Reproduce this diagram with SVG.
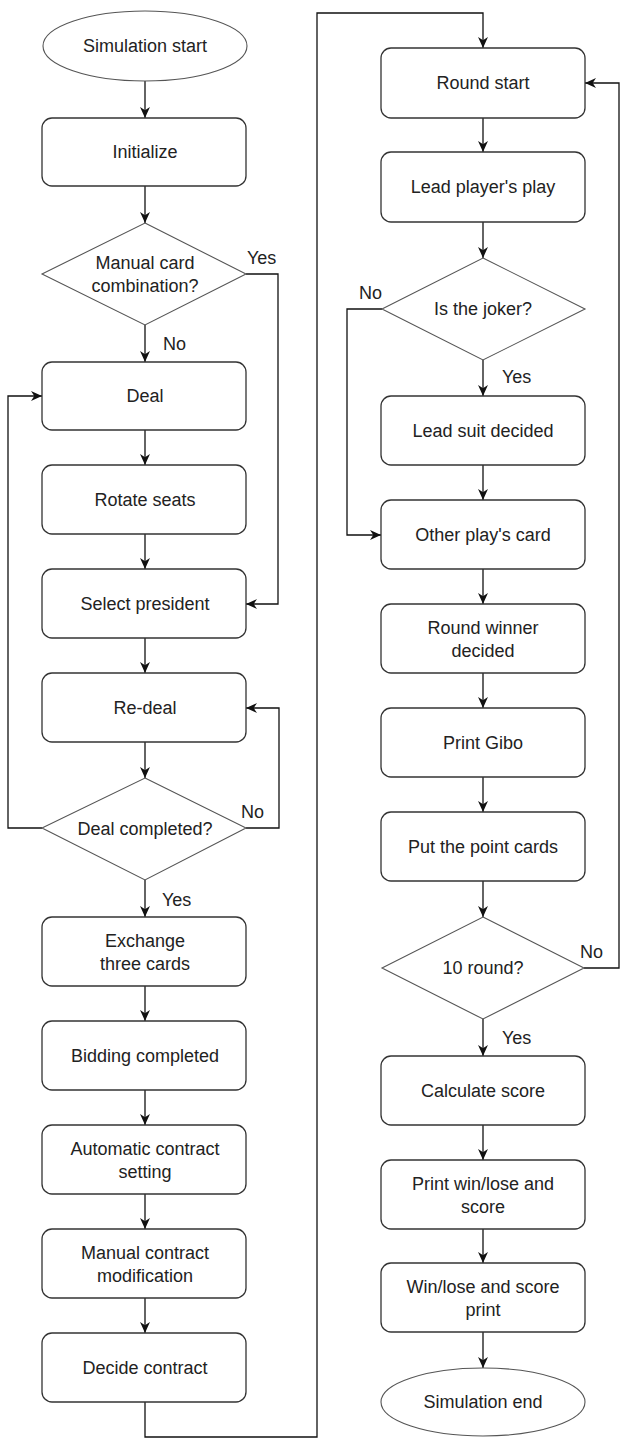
<svg xmlns="http://www.w3.org/2000/svg" width="639" height="1450" viewBox="0 0 639 1450">
<style>
.n{fill:#fff;stroke:#333;stroke-width:1.3}
.d{fill:#fff;stroke:#555;stroke-width:1.1}
.t{font-family:"Liberation Sans",Arial,sans-serif;font-size:18px;fill:#222;text-anchor:middle}
.l{font-family:"Liberation Sans",Arial,sans-serif;font-size:18px;fill:#222}
.c{fill:none;stroke:#111;stroke-width:1.3;marker-end:url(#a)}
.c0{fill:none;stroke:#111;stroke-width:1.3}
</style>
<defs>
<marker id="a" viewBox="0 0 10 10" refX="10" refY="5" markerWidth="11" markerHeight="11" markerUnits="userSpaceOnUse" orient="auto">
<path d="M0,0.5 L10,5 L0,9.5 L3,5 z" fill="#111"/>
</marker>
</defs>
<rect width="639" height="1450" fill="#fff"/>

<g id="connectors">
<path class="c" d="M145,81 V118"/>
<path class="c" d="M145,186 V223"/>
<path class="c" d="M145,325 V362"/>
<path class="c" d="M246,274 H278 V604 H246"/>
<path class="c" d="M145,430 V465"/>
<path class="c" d="M145,534 V569"/>
<path class="c" d="M145,638 V673"/>
<path class="c" d="M145,742 V778"/>
<path class="c" d="M246,828 H279 V708 H246"/>
<path class="c" d="M42,828 H8 V396 H42"/>
<path class="c" d="M145,880 V917"/>
<path class="c" d="M145,986 V1021"/>
<path class="c" d="M145,1090 V1125"/>
<path class="c" d="M145,1194 V1229"/>
<path class="c" d="M145,1298 V1333"/>
<path class="c" d="M145,1402 V1437 H317 V13 H483 V48"/>
<path class="c" d="M483,118 V152"/>
<path class="c" d="M483,222 V258"/>
<path class="c" d="M483,360 V396"/>
<path class="c" d="M382,309 H347 V535 H381"/>
<path class="c" d="M483,465 V500"/>
<path class="c" d="M483,569 V604"/>
<path class="c" d="M483,673 V708"/>
<path class="c" d="M483,777 V812"/>
<path class="c" d="M483,881 V917"/>
<path class="c" d="M584,968 H619 V83 H585"/>
<path class="c" d="M483,1019 V1056"/>
<path class="c" d="M483,1125 V1160"/>
<path class="c" d="M483,1229 V1263"/>
<path class="c" d="M483,1332 V1368"/>
<text class="l" x="247" y="264">Yes</text>
<text class="l" x="163" y="350">No</text>
<text class="l" x="241" y="818">No</text>
<text class="l" x="162" y="906">Yes</text>
<text class="l" x="359" y="299">No</text>
<text class="l" x="502" y="383">Yes</text>
<text class="l" x="580" y="958">No</text>
<text class="l" x="502" y="1044">Yes</text>
</g>

<g id="sim-start"><ellipse class="d" cx="145" cy="46" rx="102" ry="35"/><text class="t" x="145" y="52">Simulation start</text></g>
<g id="initialize"><rect class="n" x="42" y="118" width="204" height="68" rx="10"/><text class="t" x="145" y="158">Initialize</text></g>
<g id="manual-card"><polygon class="d" points="145,223 246,274 145,325 42,274"/><text class="t" x="145" y="269">Manual card</text><text class="t" x="145" y="292">combination?</text></g>
<g id="deal"><rect class="n" x="42" y="362" width="204" height="68" rx="10"/><text class="t" x="145" y="402">Deal</text></g>
<g id="rotate"><rect class="n" x="42" y="465" width="204" height="69" rx="10"/><text class="t" x="145" y="506">Rotate seats</text></g>
<g id="select"><rect class="n" x="42" y="569" width="204" height="69" rx="10"/><text class="t" x="145" y="610">Select president</text></g>
<g id="redeal"><rect class="n" x="42" y="673" width="204" height="69" rx="10"/><text class="t" x="145" y="714">Re-deal</text></g>
<g id="deal-completed"><polygon class="d" points="145,778 246,828 145,880 42,828"/><text class="t" x="145" y="835">Deal completed?</text></g>
<g id="exchange"><rect class="n" x="42" y="917" width="204" height="69" rx="10"/><text class="t" x="145" y="947">Exchange</text><text class="t" x="145" y="970">three cards</text></g>
<g id="bidding"><rect class="n" x="42" y="1021" width="204" height="69" rx="10"/><text class="t" x="145" y="1062">Bidding completed</text></g>
<g id="auto-contract"><rect class="n" x="42" y="1125" width="204" height="69" rx="10"/><text class="t" x="145" y="1155">Automatic contract</text><text class="t" x="145" y="1178">setting</text></g>
<g id="manual-contract"><rect class="n" x="42" y="1229" width="204" height="69" rx="10"/><text class="t" x="145" y="1259">Manual contract</text><text class="t" x="145" y="1282">modification</text></g>
<g id="decide"><rect class="n" x="42" y="1333" width="204" height="69" rx="10"/><text class="t" x="145" y="1374">Decide contract</text></g>

<g id="round-start"><rect class="n" x="381" y="48" width="204" height="70" rx="10"/><text class="t" x="483" y="89">Round start</text></g>
<g id="lead-play"><rect class="n" x="381" y="152" width="204" height="70" rx="10"/><text class="t" x="483" y="193">Lead player's play</text></g>
<g id="joker"><polygon class="d" points="483,258 585,309 483,360 382,309"/><text class="t" x="483" y="315">Is the joker?</text></g>
<g id="lead-suit"><rect class="n" x="381" y="396" width="204" height="69" rx="10"/><text class="t" x="483" y="437">Lead suit decided</text></g>
<g id="other-play"><rect class="n" x="381" y="500" width="204" height="69" rx="10"/><text class="t" x="483" y="541">Other play's card</text></g>
<g id="round-winner"><rect class="n" x="381" y="604" width="204" height="69" rx="10"/><text class="t" x="483" y="634">Round winner</text><text class="t" x="483" y="657">decided</text></g>
<g id="print-gibo"><rect class="n" x="381" y="708" width="204" height="69" rx="10"/><text class="t" x="483" y="749">Print Gibo</text></g>
<g id="point-cards"><rect class="n" x="381" y="812" width="204" height="69" rx="10"/><text class="t" x="483" y="853">Put the point cards</text></g>
<g id="ten-round"><polygon class="d" points="483,917 584,968 483,1019 382,968"/><text class="t" x="483" y="974">10 round?</text></g>
<g id="calc-score"><rect class="n" x="381" y="1056" width="204" height="69" rx="10"/><text class="t" x="483" y="1097">Calculate score</text></g>
<g id="print-win"><rect class="n" x="381" y="1160" width="204" height="69" rx="10"/><text class="t" x="483" y="1190">Print win/lose and</text><text class="t" x="483" y="1213">score</text></g>
<g id="win-print"><rect class="n" x="381" y="1263" width="204" height="69" rx="10"/><text class="t" x="483" y="1293">Win/lose and score</text><text class="t" x="483" y="1316">print</text></g>
<g id="sim-end"><ellipse class="d" cx="483" cy="1402" rx="102" ry="34"/><text class="t" x="483" y="1408">Simulation end</text></g>
</svg>
